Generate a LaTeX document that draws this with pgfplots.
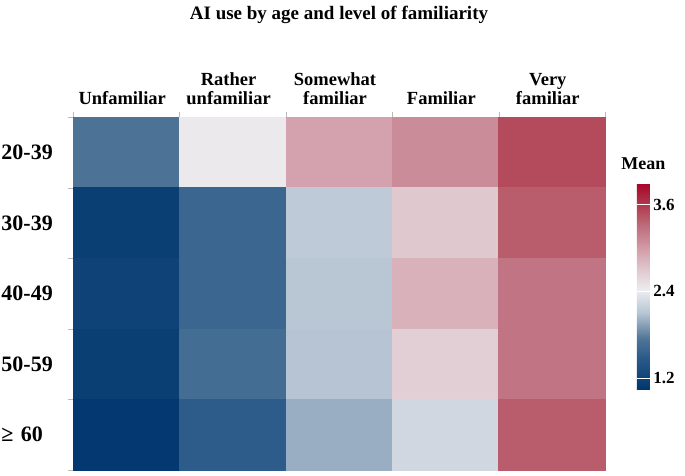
\documentclass[border=0pt]{standalone}
\usepackage{fontspec}
\setmainfont{Liberation Serif}
\usepackage{pgfplots}
\pgfplotsset{compat=1.18}

\begin{document}
\begin{tikzpicture}
\useasboundingbox (-73pt,-5pt) rectangle (612pt,470pt);
\begin{axis}[
    at={(0,0)}, anchor=south west,
    scale only axis,
    width=532pt, height=353pt,
    xmin=-0.5, xmax=4.5, ymin=-0.5, ymax=4.5,
    y dir=reverse,
    enlargelimits=false,
    clip=false,
    axis line style={gray!55},
    tick style={gray!55},
    tick align=outside,
    xtick={0,1,2,3,4},
    xticklabels={Unfamiliar, Rather\\unfamiliar, Somewhat\\familiar, Familiar, Very\\familiar},
    xticklabel pos=right, xtick pos=right,
    ytick={0,1,2,3,4},
    yticklabels={20-39, 30-39, 40-49, 50-59, {≥ 60}},
    ytick pos=left,
    major tick length=0pt,
    minor xtick={-0.5,0.5,...,4.5},
    minor ytick={-0.5,0.5,...,4.5},
    minor tick length=5pt,
    xticklabel style={font=\fontsize{18.5}{19}\selectfont\bfseries, align=center, yshift=9pt, xshift=-4pt},
    yticklabel style={font=\fontsize{22}{23}\selectfont\bfseries, text width=60pt, align=left, xshift=-8pt},
    colormap={heat}{
        rgb255(105)=(0,55,110)
        rgb255(150)=(45,92,138)
        rgb255(175)=(80,118,152)
        rgb255(210)=(182,196,211)
        rgb255(242)=(237,237,240)
        rgb255(270)=(224,200,207)
        rgb255(300)=(210,155,167)
        rgb255(330)=(190,110,125)
        rgb255(350)=(180,75,92)
        rgb255(390)=(165,5,40)
    },
    point meta min=1.05, point meta max=3.9,
    colorbar,
    colorbar style={
        at={(1.06,0.813)}, anchor=north west,
        width=13pt, height=206pt,
        axis line style={draw=none},
        ytick={1.2,2.4,3.6},
        yticklabel pos=right,
        major tick length=13pt,
        tick align=inside,
        ytick style={draw=white, line width=1pt},
        /pgf/number format/fixed,
        /pgf/number format/fixed zerofill,
        /pgf/number format/precision=1,
        /pgf/number format/assume math mode=true,
        yticklabel style={font=\fontsize{17}{18}\selectfont\bfseries},
        title={Mean},
        title style={font=\fontsize{18}{19}\selectfont\bfseries, yshift=4pt},
    },
]
\addplot[matrix plot*, point meta=explicit, mesh/cols=5] table[meta=C] {
x y C
0 0 1.72
1 0 2.45
2 0 2.95
3 0 3.10
4 0 3.50
0 1 1.15
1 1 1.60
2 1 2.15
3 1 2.70
4 1 3.40
0 2 1.20
1 2 1.60
2 2 2.12
3 2 2.85
4 2 3.25
0 3 1.15
1 3 1.66
2 3 2.10
3 3 2.65
4 3 3.25
0 4 1.08
1 4 1.50
2 4 2.00
3 4 2.25
4 4 3.40
};
\node[anchor=base, font=\fontsize{19}{20}\selectfont\bfseries, yshift=98pt]
    at (rel axis cs:0.5,1) {AI use by age and level of familiarity};
\end{axis}
\end{tikzpicture}
\end{document}
